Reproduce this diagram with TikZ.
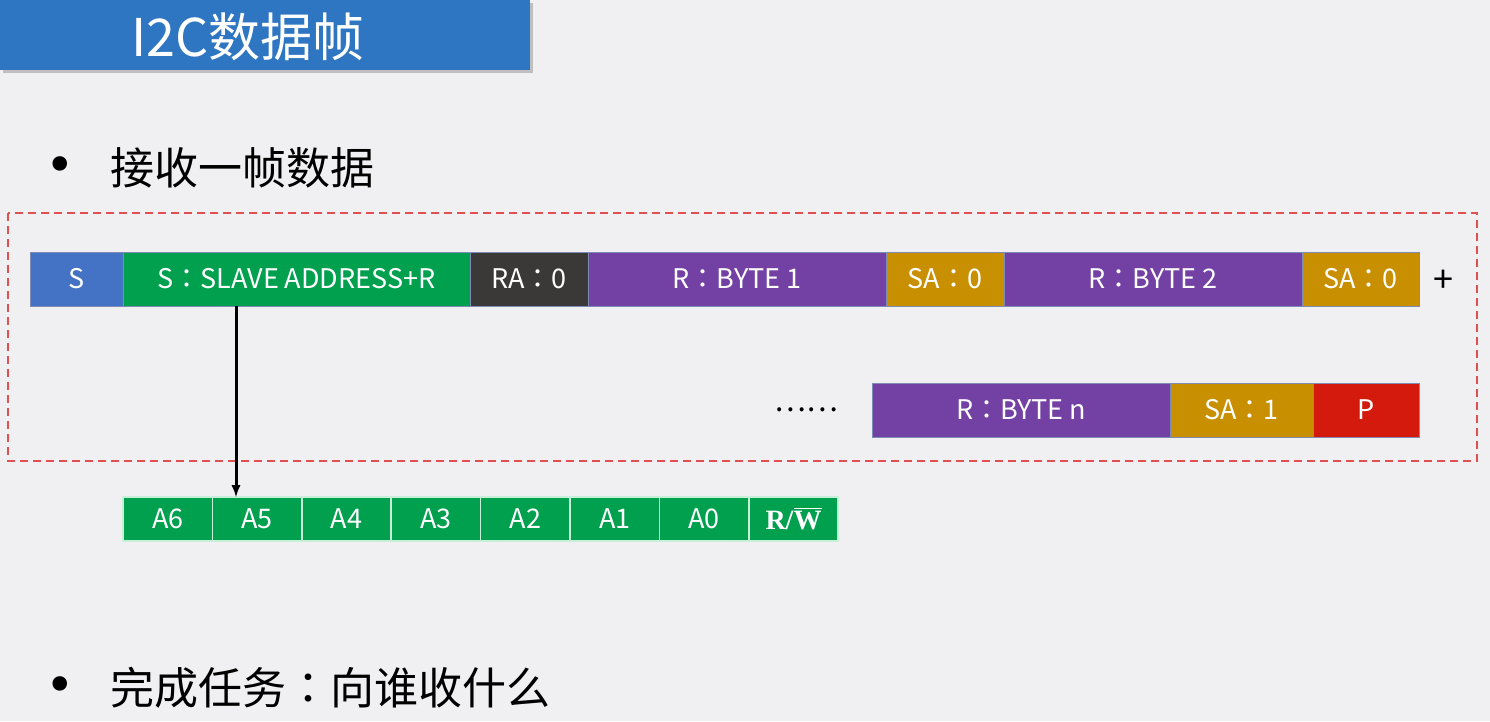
\documentclass[tikz,border=0pt]{standalone}
\usepackage[no-math]{fontspec}
\setmainfont{Noto Sans CJK SC}
\newfontfamily\jpfont{Noto Sans CJK JP}
\newfontfamily\symfont{DejaVu Sans}
\newfontfamily\serifbit{Liberation Serif}
\usetikzlibrary{positioning}

\definecolor{pagebg}{HTML}{F0EFF1}
\definecolor{titleblue}{HTML}{2E75C2}
\definecolor{startblue}{HTML}{4472C4}
\definecolor{addrgreen}{HTML}{00A04F}
\definecolor{ackdark}{HTML}{3B3838}
\definecolor{bytepurple}{HTML}{7340A4}
\definecolor{ackgold}{HTML}{C89000}
\definecolor{stopred}{HTML}{D41A0C}
\definecolor{framered}{HTML}{E05050}
\definecolor{segline}{HTML}{7C8CB4}
\definecolor{bitline}{HTML}{C8F0D8}

% centred full-width colon
\newcommand{\fcolon}{{\jpfont ：}}
% letter with a bar over it
\newcommand{\barletter}[1]{\vbox{\hrule height 1.6pt\kern 2pt\hbox{#1}}}

\begin{document}
\begin{tikzpicture}[
      x=1pt, y=-1pt, >=latex,
      segbox/.style={
          rectangle, draw=segline, line width=0.8pt,
          minimum height=54pt, inner sep=0pt, outer sep=0pt,
          text=white, font=\fontsize{27}{27}\selectfont
      },
      bitbox/.style={
          rectangle, fill=addrgreen, draw=bitline, line width=1.5pt,
          minimum width=89.4pt, minimum height=44pt, inner sep=0pt, outer sep=0pt,
          text=white, font=\fontsize{27}{27}\selectfont
      },
      bulletdot/.style={
          inner sep=0pt, font=\symfont\fontsize{50}{50}\selectfont
      },
      bullettext/.style={
          anchor=west, inner sep=0pt, font=\fontsize{44}{44}\selectfont
      }
  ]
    \useasboundingbox[fill=pagebg] (0,0) rectangle (1490,721);

    % Title banner
    \fill[black!25] (3,3) rectangle (533,73);
    \node[rectangle, fill=titleblue, minimum width=530pt, minimum height=70pt,
          inner sep=0pt, anchor=north west] (title) at (0,0) {};
    \node[text=white, font=\fontsize{52}{52}\selectfont] (titletext) at (248,37) {I2C数据帧};

    % First bullet
    \node[bulletdot] (dot1) at (60,170) {•};
    \node[bullettext] (item1) at (110,168) {接收一帧数据};

    % Dashed frame
    \draw[framered, line width=1.3pt, dash pattern=on 8pt off 5pt] (8,213) rectangle (1477,461);

    % Top row of the frame
    \node[segbox, fill=startblue, minimum width=93pt, anchor=west] (start) at (30,279) {S};
    \node[segbox, fill=addrgreen, minimum width=347pt, right=0pt of start] (addr) {S\fcolon SLAVE ADDRESS+R};
    \node[segbox, fill=ackdark, minimum width=118pt, right=0pt of addr] (ra) {RA\fcolon 0};
    \node[segbox, fill=bytepurple, minimum width=298pt, right=0pt of ra] (byte1) {R\fcolon BYTE 1};
    \node[segbox, fill=ackgold, minimum width=118pt, right=0pt of byte1] (sa1) {SA\fcolon 0};
    \node[segbox, fill=bytepurple, minimum width=298pt, right=0pt of sa1] (byte2) {R\fcolon BYTE 2};
    \node[segbox, fill=ackgold, minimum width=117pt, right=0pt of byte2] (sa2) {SA\fcolon 0};
    \node[font=\fontsize{36}{36}\selectfont, inner sep=0pt] (plus) at (1443,281) {+};

    % Second row of the frame
    \node[segbox, fill=bytepurple, minimum width=298pt, anchor=west] (byten) at (872,410) {R\fcolon BYTE n};
    \node[segbox, fill=ackgold, minimum width=143pt, right=0pt of byten] (san) {SA\fcolon 1};
    \node[segbox, fill=stopred, minimum width=106pt, right=0pt of san] (stop) {P};
    \node[font=\fontsize{30}{30}\selectfont, left=30pt of byten] (dots) {……};

    % Address bits
    \node[bitbox, anchor=north west] (a6) at (123,497) {A6};
    \node[bitbox, right=0pt of a6] (a5) {A5};
    \node[bitbox, right=0pt of a5] (a4) {A4};
    \node[bitbox, right=0pt of a4] (a3) {A3};
    \node[bitbox, right=0pt of a3] (a2) {A2};
    \node[bitbox, right=0pt of a2] (a1) {A1};
    \node[bitbox, right=0pt of a1] (a0) {A0};
    \node[bitbox, right=0pt of a0, font=\serifbit\bfseries\fontsize{28}{28}\selectfont] (rw) {R/\barletter{W}};

    % Arrow from the address field to its bits
    \coordinate (tap) at (236,306);
    \draw[->, line width=3pt] (tap) -- (tap |- a5.north);

    % Second bullet
    \node[bulletdot] (dot2) at (60,690) {•};
    \node[bullettext] (item2) at (110,688) {完成任务\fcolon 向谁收什么};
  \end{tikzpicture}
\end{document}
